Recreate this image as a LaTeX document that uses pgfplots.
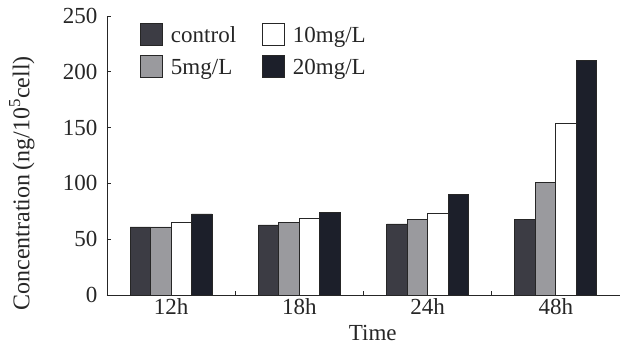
\documentclass[border=0pt]{standalone}
\usepackage{pgfplots}
\pgfplotsset{compat=1.18}
\usepackage{fontspec}
\setmainfont{Liberation Serif}
\definecolor{cctrl}{HTML}{3C3C44}
\definecolor{cfive}{HTML}{9A9A9E}
\definecolor{cten}{HTML}{FFFFFF}
\definecolor{ctwenty}{HTML}{1C1F2A}
\begin{document}
\begin{tikzpicture}
\path[use as bounding box] (-107pt,-50pt) rectangle (514pt,295pt);
\begin{axis}[
  scale only axis,
  width=513pt, height=279pt,
  at={(0,0)}, anchor=south west,
  xmin=-0.5, xmax=3.5,
  ymin=0, ymax=250,
  axis lines=left,
  axis line style={-, line width=0.9pt, color=black!85},
  ybar=0pt,
  bar width=20.5pt,
  xtick={0,1,2,3},
  xticklabels={12h,18h,24h,48h},
  minor xtick={0.5,1.5,2.5},
  major x tick style={draw=none},
  minor x tick style={line width=0.9pt, black!85},
  minor tick length=4pt,
  ytick={0,50,100,150,200,250},
  major tick length=4pt,
  y tick style={line width=0.9pt, black!85},
  tick align=inside,
  tick label style={font=\fontsize{23}{26}\selectfont, text=black!85},
  yticklabel style={xshift=-6pt},
  /pgf/number format/assume math mode=true,
  xlabel={Time},
  ylabel={Concentration\,(ng/10\textsuperscript{5}cell)},
  label style={font=\fontsize{23}{26}\selectfont, text=black!85},
  xlabel style={at={(axis description cs:0.518,-0.137)}, anchor=center},
  ylabel style={font=\fontsize{24}{27}\selectfont, at={(axis description cs:-0.166,0.40)}, anchor=center},
  legend columns=2,
  legend transposed=true,
  legend style={at={(30pt,274pt)}, anchor=north west, draw=none, fill=none,
    font=\fontsize{23}{26}\selectfont, text=black!85,
    /tikz/every even column/.append style={column sep=24pt},
    row sep=9pt},
  legend image code/.code={\draw[#1, bar width=0pt] (0pt,-10pt) rectangle (22pt,12pt); \path (28pt,0pt);},
  legend cell align=left,
  every axis plot/.append style={draw=black!85, line width=0.8pt},
]
\addplot[fill=cctrl] coordinates {(0,61) (1,62.8) (2,63.7) (3,67.9)};
\addlegendentry{control}
\addplot[fill=cfive] coordinates {(0,61) (1,65) (2,68) (3,101)};
\addlegendentry{5mg/L}
\addplot[fill=cten] coordinates {(0,65) (1,68.4) (2,72.9) (3,154)};
\addlegendentry{10mg/L}
\addplot[fill=ctwenty] coordinates {(0,72.6) (1,73.8) (2,90) (3,210.5)};
\addlegendentry{20mg/L}
\end{axis}
\end{tikzpicture}
\end{document}
